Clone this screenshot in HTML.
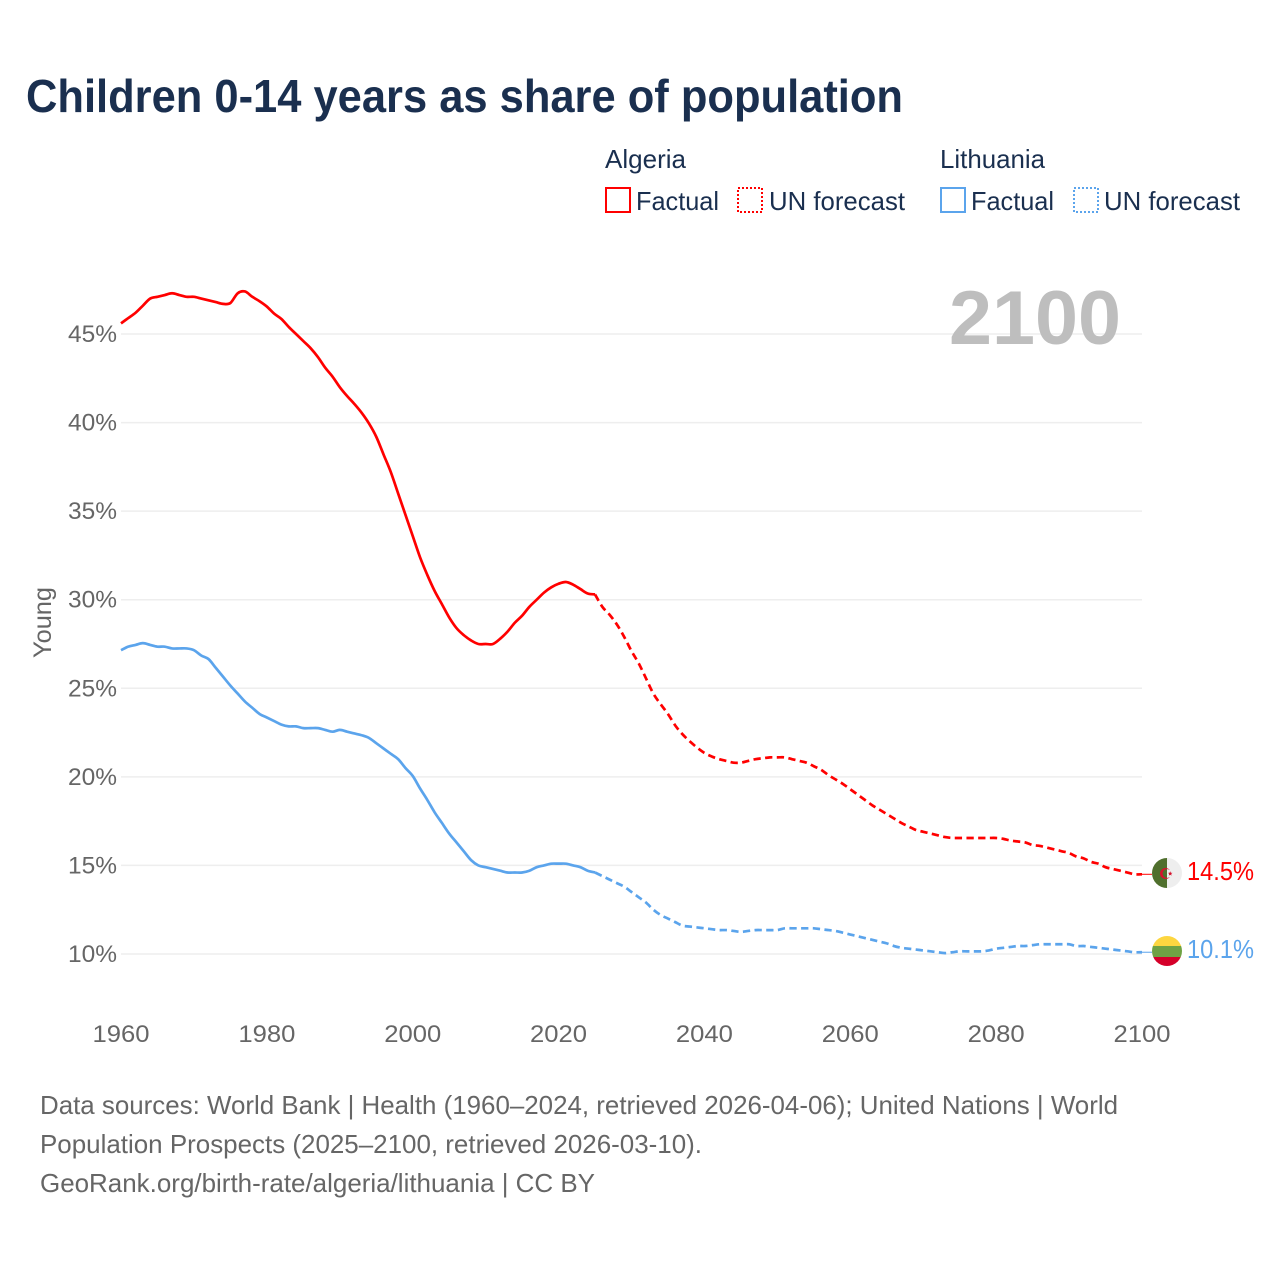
<!DOCTYPE html>
<html lang="en">
<head>
<meta charset="utf-8">
<title>Children 0-14 years as share of population</title>
<style>
html,body{margin:0;padding:0;background:#fff;}
svg{display:block;font-family:"Liberation Sans",sans-serif;}
</style>
</head>
<body>
<svg id="chart" xmlns="http://www.w3.org/2000/svg" width="1280" height="1280" viewBox="0 0 1280 1280">
  <rect x="0" y="0" width="1280" height="1280" fill="#ffffff"/>
  <text x="26" y="112" font-size="46" font-weight="700" fill="#1a2f4f" textLength="877" lengthAdjust="spacingAndGlyphs">Children 0-14 years as share of population</text>

  <g font-size="26" fill="#1a2f4f">
    <text x="605" y="168" textLength="81" lengthAdjust="spacingAndGlyphs">Algeria</text>
    <rect x="606" y="188" width="24" height="24" fill="none" stroke="#ff0000" stroke-width="2"/>
    <text x="636" y="210" textLength="83" lengthAdjust="spacingAndGlyphs">Factual</text>
    <rect x="738" y="188" width="24" height="24" fill="none" stroke="#ff0000" stroke-width="2" stroke-dasharray="2 2"/>
    <text x="769" y="210" textLength="136" lengthAdjust="spacingAndGlyphs">UN forecast</text>
    <text x="940" y="168" textLength="105" lengthAdjust="spacingAndGlyphs">Lithuania</text>
    <rect x="941" y="188" width="24" height="24" fill="none" stroke="#5ba4ec" stroke-width="2"/>
    <text x="971" y="210" textLength="83" lengthAdjust="spacingAndGlyphs">Factual</text>
    <rect x="1074" y="188" width="24" height="24" fill="none" stroke="#5ba4ec" stroke-width="2" stroke-dasharray="2 2"/>
    <text x="1104" y="210" textLength="136" lengthAdjust="spacingAndGlyphs">UN forecast</text>
  </g>

  <g id="grid"></g>
  <g id="yticks" font-size="24" fill="#666666"></g>
  <g id="xticks" font-size="24" fill="#666666"></g>

  <text x="949" y="344" font-size="76" font-weight="700" fill="#bebebe" textLength="172" lengthAdjust="spacingAndGlyphs">2100</text>
  <text transform="translate(51,658) rotate(-90)" font-size="25" fill="#666666" textLength="71" lengthAdjust="spacingAndGlyphs">Young</text>

  <g id="series"></g>

  <defs>
    <clipPath id="flag-clip-dz"><circle cx="1167" cy="873" r="15"/></clipPath>
    <clipPath id="flag-clip-lt"><circle cx="1167" cy="951" r="15"/></clipPath>
  </defs>
  <g clip-path="url(#flag-clip-dz)">
    <rect x="1152" y="858" width="15" height="30" fill="#4f6f2d"/>
    <rect x="1167" y="858" width="15" height="30" fill="#eeeeee"/>
    <path d="M1169.88 870.17 A5.5 5.5 0 1 0 1169.88 876.83 A4.4 4.4 0 1 1 1169.88 870.17 Z" fill="#d5122c"/>
    <polygon points="1170.2,871.2 1170.8,872.8 1172.5,872.9 1171.2,873.9 1171.6,875.6 1170.2,874.7 1168.8,875.6 1169.2,873.9 1167.9,872.9 1169.6,872.8" fill="#d5122c"/>
  </g>
  <g clip-path="url(#flag-clip-lt)">
    <rect x="1152" y="936" width="30" height="10" fill="#fdd640"/>
    <rect x="1152" y="946" width="30" height="11" fill="#6fa244"/>
    <rect x="1152" y="957" width="30" height="9" fill="#d5002a"/>
  </g>
  <text x="1187" y="880" font-size="26" fill="#ff0000" textLength="67" lengthAdjust="spacingAndGlyphs">14.5%</text>
  <text x="1187" y="958" font-size="26" fill="#5ba4ec" textLength="67" lengthAdjust="spacingAndGlyphs">10.1%</text>

  <g font-size="26" fill="#666666">
    <text x="40" y="1114" textLength="1078" lengthAdjust="spacingAndGlyphs">Data sources: World Bank | Health (1960–2024, retrieved 2026-04-06); United Nations | World</text>
    <text x="40" y="1153" textLength="662" lengthAdjust="spacingAndGlyphs">Population Prospects (2025–2100, retrieved 2026-03-10).</text>
    <text x="40" y="1192" textLength="555" lengthAdjust="spacingAndGlyphs">GeoRank.org/birth-rate/algeria/lithuania | CC BY</text>
  </g>
</svg>
<script>
const factualStartYear = 1960;
const forecastStartYear = 2025;
const yTickValues = [10, 15, 20, 25, 30, 35, 40, 45];
const xTickYears = [1960, 1980, 2000, 2020, 2040, 2060, 2080, 2100];

const algeriaFactual = [
  45.6,45.9,46.2,46.6,47.0,47.1,47.2,47.3,47.2,47.1,
  47.1,47.0,46.9,46.8,46.7,46.75,47.3,47.4,47.1,46.85,
  46.55,46.15,45.85,45.4,45.0,44.6,44.2,43.7,43.1,42.6,
  42.0,41.5,41.05,40.55,39.95,39.2,38.2,37.2,36.0,34.8,
  33.6,32.4,31.4,30.5,29.75,29.0,28.4,28.0,27.7,27.5,
  27.5,27.5,27.8,28.2,28.7,29.1,29.6,30.0,30.4,30.7,
  30.9,31.0,30.85,30.6,30.35,30.3
];
const algeriaForecast = [
  30.3,29.6,29.15,28.6,27.9,
  27.1,26.4,25.55,24.7,24.1,23.55,22.9,22.4,22.0,21.65,
  21.35,21.15,21.0,20.9,20.8,20.8,20.9,21.0,21.05,21.1,
  21.1,21.1,21.0,20.9,20.8,20.6,20.4,20.1,19.85,19.6,
  19.3,19.0,18.7,18.4,18.15,17.9,17.65,17.4,17.2,17.0,
  16.9,16.8,16.7,16.6,16.55,16.55,16.55,16.55,16.55,16.55,
  16.55,16.5,16.4,16.35,16.3,16.15,16.1,16.0,15.9,15.8,
  15.7,15.5,15.4,15.2,15.1,14.9,14.8,14.7,14.6,14.5,14.5
];
const lithuaniaFactual = [
  27.15,27.35,27.45,27.55,27.45,27.35,27.35,27.25,27.25,27.25,
  27.15,26.85,26.65,26.15,25.65,25.15,24.7,24.25,23.9,23.55,
  23.35,23.15,22.95,22.85,22.85,22.75,22.75,22.75,22.65,22.55,
  22.65,22.55,22.45,22.35,22.2,21.9,21.6,21.3,21.0,20.5,
  20.05,19.35,18.7,18.0,17.4,16.8,16.3,15.8,15.3,15.0,
  14.9,14.8,14.7,14.6,14.6,14.6,14.7,14.9,15.0,15.1,
  15.1,15.1,15.0,14.9,14.7,14.6
];
const lithuaniaForecast = [
  14.6,14.4,14.2,14.0,13.8,
  13.5,13.2,12.9,12.5,12.2,12.0,11.8,11.6,11.55,11.5,
  11.45,11.4,11.35,11.35,11.3,11.25,11.3,11.35,11.35,11.35,
  11.35,11.45,11.45,11.45,11.45,11.45,11.4,11.35,11.3,11.2,
  11.1,11.0,10.9,10.8,10.7,10.6,10.45,10.35,10.3,10.25,
  10.2,10.15,10.1,10.05,10.1,10.15,10.15,10.15,10.15,10.2,
  10.3,10.35,10.4,10.45,10.45,10.5,10.55,10.55,10.55,10.55,
  10.55,10.45,10.45,10.4,10.35,10.3,10.25,10.2,10.15,10.1,10.1
];

const SVG_NS = 'http://www.w3.org/2000/svg';
function xScale(year) { return 121 + (year - 1960) * (1142 - 121) / 140; }
function yScale(value) { return 954 - (value - 10) * (954 - 334) / 35; }

const gridGroup = document.getElementById('grid');
const yTickGroup = document.getElementById('yticks');
const xTickGroup = document.getElementById('xticks');
const seriesGroup = document.getElementById('series');

yTickValues.forEach(function (v) {
  const line = document.createElementNS(SVG_NS, 'line');
  
  
  line.setAttribute('x1', 121);
  line.setAttribute('x2', 1142);
  line.setAttribute('y1', yScale(v));
  line.setAttribute('y2', yScale(v));
  line.setAttribute('stroke', '#eeeeee');
  line.setAttribute('stroke-width', '1.5');
  gridGroup.appendChild(line);

  const label = document.createElementNS(SVG_NS, 'text');
  
  
  label.setAttribute('x', 68);
  label.setAttribute('y', yScale(v) + 8);
  label.setAttribute('textLength', 49);
  label.setAttribute('lengthAdjust', 'spacingAndGlyphs');
  label.textContent = v + '%';
  yTickGroup.appendChild(label);
});

xTickYears.forEach(function (year) {
  const label = document.createElementNS(SVG_NS, 'text');
  
  
  label.setAttribute('x', xScale(year) - 28.5);
  label.setAttribute('y', 1042);
  label.setAttribute('textLength', 57);
  label.setAttribute('lengthAdjust', 'spacingAndGlyphs');
  label.textContent = year;
  xTickGroup.appendChild(label);
});

function pathFor(values, startYear) {
  const pts = values.map(function (v, i) {
    return [xScale(startYear + i), yScale(v)];
  });
  let d = 'M' + pts[0][0].toFixed(2) + ' ' + pts[0][1].toFixed(2);
  for (let i = 0; i < pts.length - 1; i++) {
    const p0 = pts[Math.max(i - 1, 0)];
    const p1 = pts[i];
    const p2 = pts[i + 1];
    const p3 = pts[Math.min(i + 2, pts.length - 1)];
    const c1x = p1[0] + (p2[0] - p0[0]) / 6;
    const c1y = p1[1] + (p2[1] - p0[1]) / 6;
    const c2x = p2[0] - (p3[0] - p1[0]) / 6;
    const c2y = p2[1] - (p3[1] - p1[1]) / 6;
    d += ' C' + c1x.toFixed(2) + ' ' + c1y.toFixed(2) + ' ' + c2x.toFixed(2) + ' ' + c2y.toFixed(2) + ' ' + p2[0].toFixed(2) + ' ' + p2[1].toFixed(2);
  }
  return d;
}

function drawLine(name, values, startYear, color, dashed) {
  const line = document.createElementNS(SVG_NS, 'path');
  
  
  line.setAttribute('d', pathFor(values, startYear));
  line.setAttribute('fill', 'none');
  line.setAttribute('stroke', color);
  line.setAttribute('stroke-width', '2.7');
  line.setAttribute('stroke-linejoin', 'round');
  if (dashed) line.setAttribute('stroke-dasharray', '7.3 4.4');
  seriesGroup.appendChild(line);
}

function drawConnector(name, value, color) {
  const line = document.createElementNS(SVG_NS, 'line');
  
  
  line.setAttribute('x1', xScale(2100));
  line.setAttribute('x2', 1152);
  line.setAttribute('y1', yScale(value));
  line.setAttribute('y2', yScale(value));
  line.setAttribute('stroke', color);
  line.setAttribute('stroke-width', '1');
  seriesGroup.appendChild(line);
}

drawLine('lithuania-factual-line', lithuaniaFactual, factualStartYear, '#5ba4ec', false);
drawLine('lithuania-forecast-line', lithuaniaForecast, forecastStartYear, '#5ba4ec', true);
drawLine('algeria-factual-line', algeriaFactual, factualStartYear, '#ff0000', false);
drawLine('algeria-forecast-line', algeriaForecast, forecastStartYear, '#ff0000', true);
drawConnector('algeria-end-connector', algeriaForecast[algeriaForecast.length - 1], '#ff0000');
drawConnector('lithuania-end-connector', lithuaniaForecast[lithuaniaForecast.length - 1], '#5ba4ec');
</script>
</body>
</html>
